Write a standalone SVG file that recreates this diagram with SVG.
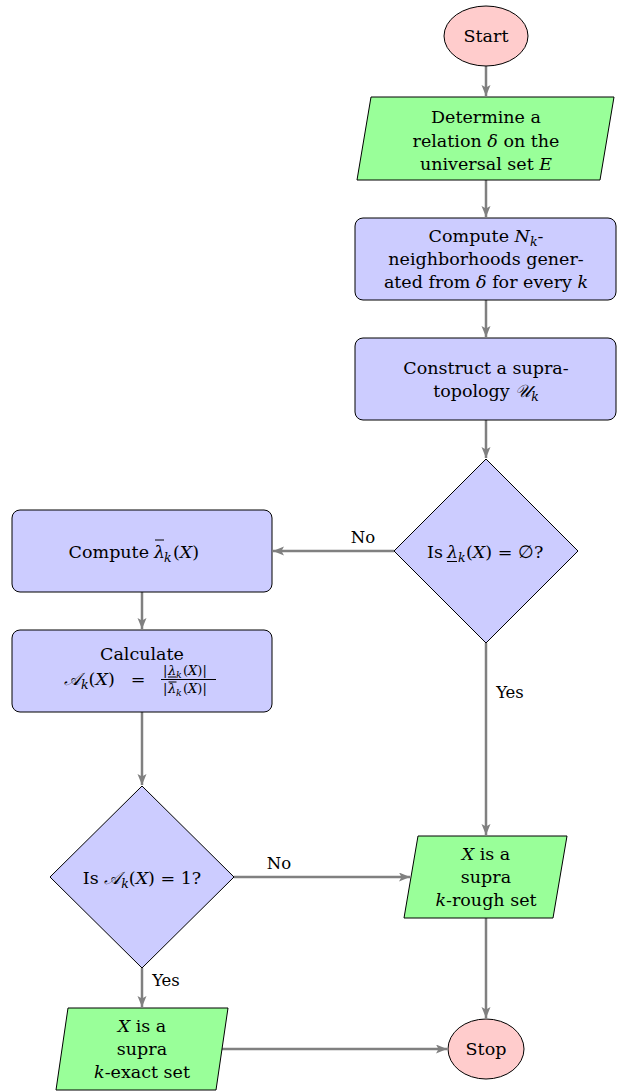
<svg xmlns="http://www.w3.org/2000/svg" width="618" height="1091" viewBox="0 0 618 1091">
<style>
text{font-family:'DejaVu Serif',serif;font-size:17.5px;fill:#000}
.m{text-anchor:middle}
.e{text-anchor:end}
.i{font-style:italic}
.s{font-size:12.5px}
.f{font-size:13px}
.fs{font-size:9.5px}
.lb{font-size:16.5px}
.node{stroke:#000;stroke-width:1}
.blue{fill:#ccccff}
.green{fill:#99ff99}
.red{fill:#ffcccc}
.edge{stroke:#808080;stroke-width:2.5;fill:none;marker-end:url(#ah)}
.deco{stroke:#000;stroke-width:1}
</style>
<defs>
<marker id="ah" markerUnits="userSpaceOnUse" markerWidth="12" markerHeight="10" refX="11" refY="4.5" orient="auto">
<path d="M0,0 L11,4.5 L0,9 L2.5,4.5 z" fill="#808080"/>
</marker>
</defs>

<g id="edges">
<line class="edge" x1="486" y1="66" x2="486" y2="96"/>
<line class="edge" x1="486" y1="180" x2="486" y2="217"/>
<line class="edge" x1="486" y1="300" x2="486" y2="337"/>
<line class="edge" x1="486" y1="420" x2="486" y2="458"/>
<line class="edge" x1="394" y1="551" x2="273" y2="551"/>
<line class="edge" x1="142" y1="592" x2="142" y2="629"/>
<line class="edge" x1="142" y1="712" x2="142" y2="785"/>
<line class="edge" x1="486" y1="643" x2="486" y2="835"/>
<line class="edge" x1="234" y1="877" x2="410" y2="877"/>
<line class="edge" x1="142" y1="968" x2="142" y2="1007"/>
<line class="edge" x1="486" y1="918" x2="486" y2="1018"/>
<line class="edge" x1="222" y1="1049" x2="447" y2="1049"/>
<text class="m lb" x="363" y="543">No</text>
<text class="m lb" x="510" y="698">Yes</text>
<text class="m lb" x="279" y="869">No</text>
<text class="m lb" x="166" y="986">Yes</text>
</g>

<g id="start">
<ellipse class="node red" cx="486" cy="36" rx="42" ry="30"/>
<text class="m" x="486" y="42">Start</text>
</g>

<g id="determine">
<polygon class="node green" points="371,97 614,97 600,180 357,180"/>
<text class="m" x="486" y="123">Determine a</text>
<text class="m" x="486" y="146.5">relation <tspan class="i">δ</tspan> on the</text>
<text class="m" x="486" y="170">universal set <tspan class="i">E</tspan></text>
</g>

<g id="neighborhoods">
<rect class="node blue" x="355" y="218" width="261" height="82" rx="8"/>
<text class="m" x="486" y="242">Compute <tspan class="i">N</tspan><tspan class="i s" dy="4">k</tspan><tspan dy="-4">-</tspan></text>
<text class="m" x="486" y="265">neighborhoods gener-</text>
<text class="m" x="486" y="288">ated from <tspan class="i">δ</tspan> for every <tspan class="i">k</tspan></text>
</g>

<g id="supratopology">
<rect class="node blue" x="355" y="338" width="261" height="82" rx="8"/>
<text class="m" x="486" y="374">Construct a supra-</text>
<text class="m" x="486" y="397">topology <tspan class="i">𝒰</tspan><tspan class="i s" dy="4">k</tspan></text>
</g>

<g id="isempty">
<polygon class="node blue" points="486,459 578,551 486,643 394,551"/>
<text class="e" x="443" y="558">Is</text>
<text class="i" x="447" y="558">λ</text>
<line class="deco" x1="447" y1="561.5" x2="457" y2="561.5"/>
<text class="i s" x="458" y="562">k</text>
<text x="466" y="558"><tspan>(</tspan><tspan class="i">X</tspan><tspan>) = ∅?</tspan></text>
</g>

<g id="upper">
<rect class="node blue" x="12" y="510" width="260" height="82" rx="8"/>
<text class="e" x="149" y="558">Compute</text>
<text class="i" x="154" y="558">λ</text>
<line class="deco" x1="155" y1="540" x2="164" y2="540"/>
<text class="i s" x="164" y="562">k</text>
<text x="173" y="558"><tspan>(</tspan><tspan class="i">X</tspan><tspan>)</tspan></text>
</g>

<g id="accuracy">
<rect class="node blue" x="12" y="630" width="260" height="82" rx="8"/>
<text class="m" x="142" y="660">Calculate</text>
<text x="64" y="685"><tspan class="i">𝒜</tspan><tspan class="i s" dy="4">k</tspan><tspan dy="-4">(</tspan><tspan class="i">X</tspan><tspan>)</tspan></text>
<text class="m" x="138" y="685">=</text>
<text class="f" x="163" y="675">|</text>
<text class="f i" x="168" y="675">λ</text>
<line class="deco" x1="168" y1="677" x2="176" y2="677"/>
<text class="fs i" x="176" y="678">k</text>
<text class="f" x="183" y="675"><tspan>(</tspan><tspan class="i">X</tspan><tspan>)|</tspan></text>
<line class="deco" x1="161" y1="679.5" x2="216" y2="679.5"/>
<text class="f" x="163" y="693">|</text>
<text class="f i" x="168" y="693">λ</text>
<line class="deco" x1="168.5" y1="682" x2="176.5" y2="682"/>
<text class="fs i" x="176" y="696">k</text>
<text class="f" x="183" y="693"><tspan>(</tspan><tspan class="i">X</tspan><tspan>)|</tspan></text>
</g>

<g id="isone">
<polygon class="node blue" points="142,786 234,877 142,968 50,877"/>
<text class="m" x="142" y="884">Is <tspan class="i">𝒜</tspan><tspan class="i s" dy="4">k</tspan><tspan dy="-4">(</tspan><tspan class="i">X</tspan><tspan>) = 1?</tspan></text>
</g>

<g id="rough">
<polygon class="node green" points="418,836 567,836 553,918 404,918"/>
<text class="m" x="486" y="860"><tspan class="i">X</tspan> is a</text>
<text class="m" x="486" y="883">supra</text>
<text class="m" x="486" y="906"><tspan class="i">k</tspan>-rough set</text>
</g>

<g id="exact">
<polygon class="node green" points="68,1008 228,1008 216,1090 56,1090"/>
<text class="m" x="142" y="1032"><tspan class="i">X</tspan> is a</text>
<text class="m" x="142" y="1055">supra</text>
<text class="m" x="142" y="1078"><tspan class="i">k</tspan>-exact set</text>
</g>

<g id="stop">
<ellipse class="node red" cx="486" cy="1049" rx="38" ry="30"/>
<text class="m" x="486" y="1055">Stop</text>
</g>
</svg>
